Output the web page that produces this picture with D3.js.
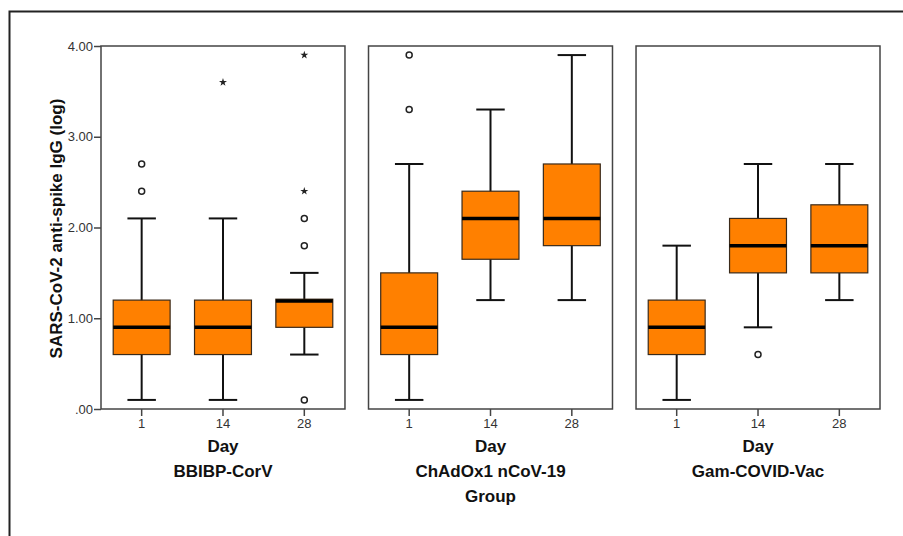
<!DOCTYPE html>
<html>
<head>
<meta charset="utf-8">
<script src="https://cdn.jsdelivr.net/npm/d3@7"></script>
<style>
  body { margin: 0; background: #fff; }
  text { font-family: Arial, "Liberation Sans", sans-serif; }
</style>
</head>
<body>
<div id="wrapper"></div>
<script>
// data
const groups = ["BBIBP-CorV", "ChAdOx1 nCoV-19", "Gam-COVID-Vac"]
const days = ["1", "14", "28"]
const yTicks = [0, 1, 2, 3, 4]

// one row per group, one value per day
const whiskerLow = [[0.1, 0.1, 0.6], [0.1, 1.2, 1.2], [0.1, 0.9, 1.2]]
const q1 = [[0.6, 0.6, 0.9], [0.6, 1.65, 1.8], [0.6, 1.5, 1.5]]
const medians = [[0.9, 0.9, 1.19], [0.9, 2.1, 2.1], [0.9, 1.8, 1.8]]
const q3 = [[1.2, 1.2, 1.21], [1.5, 2.4, 2.7], [1.2, 2.1, 2.25]]
const whiskerHigh = [[2.1, 2.1, 1.5], [2.7, 3.3, 3.9], [1.8, 2.7, 2.7]]
const outliers = [[[2.4, 2.7], [], [0.1, 1.8, 2.1]], [[3.3, 3.9], [], []], [[], [0.6], []]]
const extremes = [[[], [3.6], [2.4, 3.9]], [[], [], []], [[], [], []]]

const width = 903
let dimensions = {
  width: width,
  height: 536,
  margin: {
    top: 46,
    right: 23,
    bottom: 127,
    left: 101,
  },
}
dimensions.boundedWidth = dimensions.width - dimensions.margin.left - dimensions.margin.right
dimensions.boundedHeight = dimensions.height - dimensions.margin.top - dimensions.margin.bottom

const wrapper = d3.select("#wrapper")
  .append("svg")
    .attr("width", dimensions.width)
    .attr("height", dimensions.height)

// outer frame (cropped at right and bottom)
wrapper.append("rect")
    .attr("x", 9.5)
    .attr("y", 11.5)
    .attr("width", 1000)
    .attr("height", 1000)
    .attr("fill", "none")
    .attr("stroke", "#222")
    .attr("stroke-width", 2)

const bounds = wrapper.append("g")
    .attr("transform", `translate(${dimensions.margin.left}, ${dimensions.margin.top})`)

// scales
const yScale = d3.scaleLinear()
  .domain([0, 4])
  .range([dimensions.boundedHeight, 0])

const panelScale = d3.scaleBand()
  .domain(groups)
  .range([0, dimensions.boundedWidth])
  .paddingInner(0.088)

const dayScale = d3.scaleBand()
  .domain(days)
  .range([0, panelScale.bandwidth()])

const boxWidth = dayScale.bandwidth() * 0.7
const capWidth = boxWidth / 2

// y axis on first panel only
const yAxisGenerator = d3.axisLeft(yScale)
  .tickValues(yTicks)
  .tickSize(7)
  .tickFormat(d => d === 0 ? ".00" : d3.format(".2f")(d))

const yAxis = bounds.append("g")
    .call(yAxisGenerator)
yAxis.select(".domain").remove()
yAxis.selectAll("line").attr("stroke", "#444").attr("stroke-width", 1.5)
yAxis.selectAll("text")
    .attr("font-size", 13)
    .attr("fill", "#333")
    .attr("x", -8)

wrapper.append("text")
    .attr("transform", `translate(62, 228.5) rotate(-90)`)
    .attr("text-anchor", "middle")
    .attr("font-size", 17)
    .attr("font-weight", "bold")
    .attr("fill", "#111")
    .text("SARS-CoV-2 anti-spike IgG (log)")

groups.forEach((group, gi) => {
  const panel = bounds.append("g")
      .attr("transform", `translate(${panelScale(group)}, 0)`)

  // x axis
  const xAxis = panel.append("g")
      .attr("transform", `translate(0, ${dimensions.boundedHeight})`)
      .call(d3.axisBottom(dayScale).tickSize(7).tickSizeOuter(0))
  xAxis.select(".domain").remove()
  xAxis.selectAll("line").attr("stroke", "#444").attr("stroke-width", 1.5)
  xAxis.selectAll("text")
      .attr("font-size", 13)
      .attr("fill", "#333")
      .attr("y", 10)

  panel.append("rect")
      .attr("width", panelScale.bandwidth())
      .attr("height", dimensions.boundedHeight)
      .attr("fill", "none")
      .attr("stroke", "#444")
      .attr("stroke-width", 1.5)

  const mid = panelScale.bandwidth() / 2
  panel.append("text")
      .attr("x", mid)
      .attr("y", dimensions.boundedHeight + 43)
      .attr("text-anchor", "middle")
      .attr("font-size", 17)
      .attr("font-weight", "bold")
      .attr("fill", "#111")
      .text("Day")
  panel.append("text")
      .attr("x", mid)
      .attr("y", dimensions.boundedHeight + 68)
      .attr("text-anchor", "middle")
      .attr("font-size", 17)
      .attr("font-weight", "bold")
      .attr("fill", "#111")
      .text(group)
  if (gi === 1) {
    panel.append("text")
        .attr("x", mid)
        .attr("y", dimensions.boundedHeight + 93)
        .attr("text-anchor", "middle")
        .attr("font-size", 17)
        .attr("font-weight", "bold")
        .attr("fill", "#111")
        .text("Group")
  }

  days.forEach((day, di) => {
    const cx = dayScale(day) + dayScale.bandwidth() / 2
    const g = panel.append("g")

    // whiskers
    g.append("line")
        .attr("x1", cx).attr("x2", cx)
        .attr("y1", yScale(whiskerLow[gi][di]))
        .attr("y2", yScale(whiskerHigh[gi][di]))
        .attr("stroke", "#111").attr("stroke-width", 2)
    ;[whiskerLow[gi][di], whiskerHigh[gi][di]].forEach(v => {
      g.append("line")
          .attr("x1", cx - capWidth / 2).attr("x2", cx + capWidth / 2)
          .attr("y1", yScale(v)).attr("y2", yScale(v))
          .attr("stroke", "#111").attr("stroke-width", 2)
    })

    // box
    g.append("rect")
        .attr("x", cx - boxWidth / 2)
        .attr("y", yScale(q3[gi][di]))
        .attr("width", boxWidth)
        .attr("height", yScale(q1[gi][di]) - yScale(q3[gi][di]))
        .attr("fill", "#ff8000")
        .attr("stroke", "#3a2a1a")
        .attr("stroke-width", 1.2)

    // median
    g.append("line")
        .attr("x1", cx - boxWidth / 2).attr("x2", cx + boxWidth / 2)
        .attr("y1", yScale(medians[gi][di])).attr("y2", yScale(medians[gi][di]))
        .attr("stroke", "#000").attr("stroke-width", 3.5)

    // outliers
    g.selectAll(".outlier")
      .data(outliers[gi][di])
      .join("circle")
        .attr("class", "outlier")
        .attr("cx", cx)
        .attr("cy", d => yScale(d))
        .attr("r", 3)
        .attr("fill", "#fff")
        .attr("stroke", "#222")
        .attr("stroke-width", 1.5)

    // extremes
    g.selectAll(".extreme")
      .data(extremes[gi][di])
      .join("path")
        .attr("class", "extreme")
        .attr("transform", d => `translate(${cx}, ${yScale(d)})`)
        .attr("d", d3.symbol(d3.symbolStar, 20))
        .attr("fill", "#222")
  })
})
</script>
</body>
</html>
